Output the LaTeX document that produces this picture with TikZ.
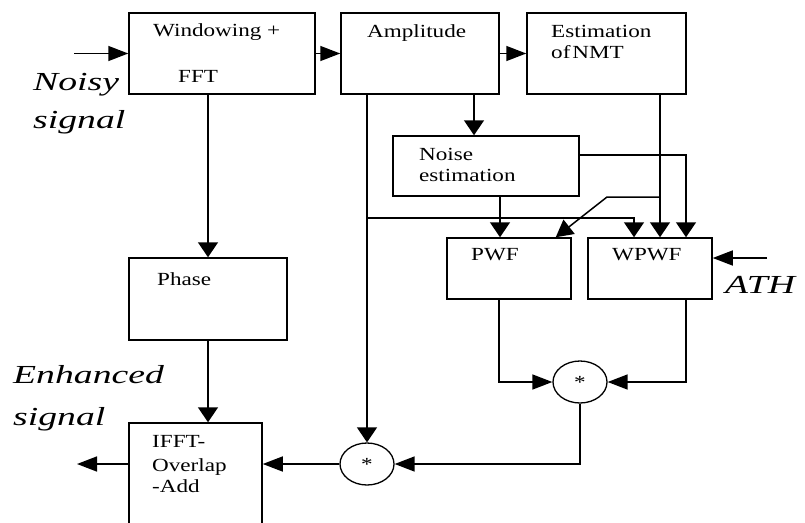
\documentclass[tikz,border=0pt]{standalone}
\usepackage{fontspec}
\setmainfont{Liberation Serif}
\newfontfamily\boxfont[FakeStretch=1.25]{Liberation Serif}
\newfontfamily\labfont[FakeStretch=1.45]{Liberation Serif}
\usetikzlibrary{arrows.meta,shapes.geometric,calc}
\begin{document}
\begin{tikzpicture}[x=1pt,y=-1pt,
 blk/.style={draw,line width=1.5pt,rectangle,inner sep=0pt},
 mul/.style={draw,line width=1.3pt,ellipse,inner sep=0pt,minimum width=54pt,minimum height=42pt,font=\boxfont\fontsize{18.5}{20}\selectfont},
 lnk/.style={line width=1.5pt},
 harr/.style={lnk,-{Triangle[length=20pt,width=15pt]}},
 varr/.style={lnk,-{Triangle[length=15pt,width=20pt]}},
 darr/.style={lnk,-{Triangle[length=17pt,width=18pt]}},
 btxt/.style={anchor=base west,inner sep=0pt,font=\boxfont\fontsize{18.5}{20}\selectfont},
 ltxt/.style={anchor=base west,inner sep=0pt,font=\labfont\itshape\fontsize{26}{28}\selectfont}]
\clip (0,0) rectangle (805,522);
% boxes
\node[blk,minimum width=186pt,minimum height=81pt] (win) at (222,53.5) {};
\node[blk,minimum width=158pt,minimum height=81pt] (amp) at (420,53.5) {};
\node[blk,minimum width=159pt,minimum height=81pt] (nmt) at (606.5,53.5) {};
\node[blk,minimum width=186pt,minimum height=60pt] (noise) at (486,166) {};
\node[blk,minimum width=124pt,minimum height=61pt] (pwf) at (509,268.5) {};
\node[blk,minimum width=124pt,minimum height=61pt] (wpwf) at (650,268.5) {};
\node[blk,minimum width=158pt,minimum height=82pt] (phase) at (208,299) {};
\node[blk,minimum width=133pt,minimum height=117pt] (ifft) at (195.5,481.5) {};
\node[mul] (m1) at (367,464) {*};
\node[mul] (m2) at (580,382) {*};
% texts
\node[btxt] (twin1) at (153,36) {Windowing +};
\node[btxt] (twin2) at (178,82) {FFT};
\node[btxt] (tamp) at (367,37) {Amplitude};
\node[btxt] (tnmt1) at (551,37) {Estimation};
\node[btxt] (tnmt2) at (551,58) {of\hspace{2pt}NMT};
\node[btxt] (tnoi1) at (419,160) {Noise};
\node[btxt] (tnoi2) at (419,181) {estimation};
\node[btxt] (tpwf) at (471,260) {PWF};
\node[btxt] (twpwf) at (612,260) {WPWF};
\node[btxt] (tph) at (157,285) {Phase};
\node[btxt] (tif1) at (152,447) {IFFT-};
\node[btxt] (tif2) at (152,471) {Overlap};
\node[btxt] (tif3) at (152,492) {-Add};
\node[ltxt] (lnoisy) at (33,90) {Noisy};
\node[ltxt] (lsig1) at (33,128) {signal};
\node[ltxt] (lenh) at (13,383) {Enhanced};
\node[ltxt] (lsig2) at (13,425) {signal};
\node[ltxt] (lath) at (725,293) {ATH};
% free ends and ports
\coordinate (inp) at (74,53.5);
\coordinate (outp) at (77,464);
\coordinate (athp) at (767,258);
\coordinate (j1) at (367,218);
\coordinate (j2) at (660,197);
\coordinate (j3) at (607,197);
\coordinate (noisein) at ($(noise.north)+(-12,0)$);
\coordinate (wpA) at ($(wpwf.north)+(-16,0)$);
\coordinate (wpB) at ($(wpwf.north)+(10,0)$);
\coordinate (wpC) at ($(wpwf.north)+(36,0)$);
\coordinate (pwfin) at ($(pwf.north)+(-9,0)$);
\coordinate (pwfdiag) at ($(pwf.north east)+(-16,0)$);
\coordinate (noiseR) at ($(noise.east)+(0,-11)$);
\coordinate (pwfout) at ($(pwf.south)+(-10,0)$);
\coordinate (wpout) at ($(wpwf.south)+(36,0)$);
% connectors
\draw[harr] (inp) -- (win.west);
\draw[harr] (win.east) -- (amp.west);
\draw[harr] (amp.east) -- (nmt.west);
\draw[varr] (win.south -| phase.north) -- (phase.north);
\draw[varr] (phase.south) -- (phase.south |- ifft.north);
\draw[harr] (m1.west -| ifft.west) -- (outp);
\draw[harr] (m1.west) -- (m1.west -| ifft.east);
\draw[varr] (m1.north |- amp.south) -- (m1.north);
\draw[varr] (j1) -| (wpA);
\draw[varr] (noisein |- amp.south) -- (noisein);
\draw[varr] (wpB |- nmt.south) -- (wpB);
\draw[darr] (j2) -- (j3) -- (pwfdiag);
\draw[varr] (noiseR) -| (wpC);
\draw[varr] (pwfin |- noise.south) -- (pwfin);
\draw[harr] (athp) -- (athp -| wpwf.east);
\draw[harr] (pwfout) |- (m2.west);
\draw[harr] (wpout) |- (m2.east);
\draw[harr] (m2.south) |- (m1.east);
\end{tikzpicture}
\end{document}
